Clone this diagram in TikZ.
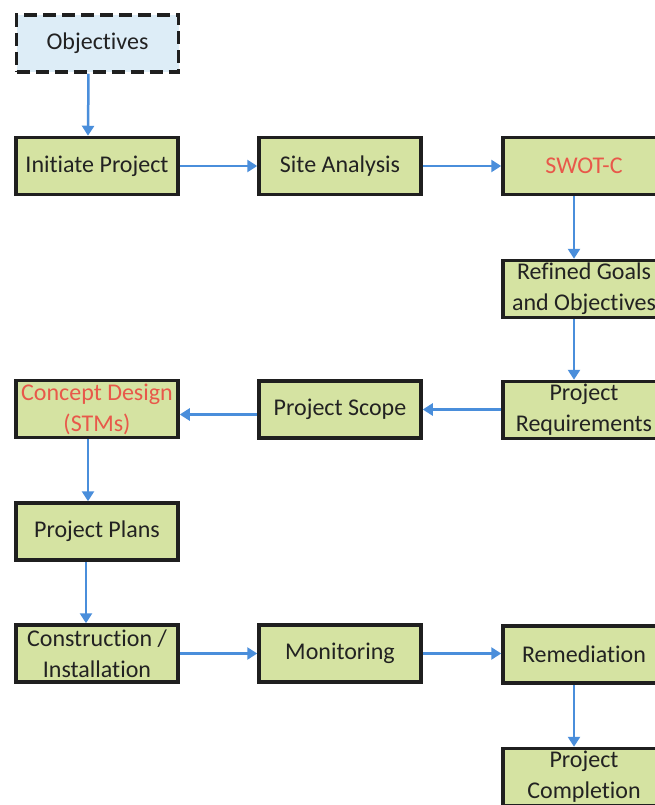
\documentclass[tikz,border=0pt]{standalone}
\usepackage{fontspec}
\setmainfont{Carlito}[Ligatures=NoCommon]
\usetikzlibrary{arrows.meta}
\definecolor{boxgreen}{HTML}{D5E3A2}
\definecolor{boxblue}{HTML}{DDEDF7}
\definecolor{arrowblue}{HTML}{4A8EDB}
\definecolor{txtred}{HTML}{E8584A}
\definecolor{txtdark}{HTML}{222222}
\tikzset{
  box/.style={draw=black!88, line width=3.5pt, fill=boxgreen, minimum width=162pt, minimum height=57pt,
    align=center, inner sep=1pt, font=\fontsize{24}{31}\selectfont, text=txtdark},
  objbox/.style={box, fill=boxblue, dash pattern=on 13pt off 6pt},
  conn/.style={draw=arrowblue, line width=2.5pt, -{Triangle[width=12pt,length=10pt]}},
  redtext/.style={text=txtred}
}
\begin{document}
\begin{tikzpicture}[x=1pt,y=-1pt]
\useasboundingbox (0,0) rectangle (655,805);
\clip (0,0) rectangle (655,805);
\fill[white] (0,0) rectangle (655,805);
\node[objbox] (obj) at (97.5,43.5) {Objectives};
\node[box] (init) at (97,166) {Initiate Project};
\node[box] (site) at (340,166) {Site Analysis};
\node[box, redtext] (swot) at (584,166) {SWOT-C};
\node[box] (refined) at (584,289) {Refined Goals\\and Objectives};
\node[box] (req) at (584,410) {Project\\Requirements};
\node[box] (scope) at (340,409.5) {Project Scope};
\node[box, redtext] (concept) at (97,409) {Concept Design\\(STMs)};
\node[box] (plans) at (97,531.5) {Project Plans};
\node[box] (constr) at (97,653.5) {Construction /\\Installation};
\node[box] (monit) at (340,653.5) {Monitoring};
\node[box] (remed) at (584,654.5) {Remediation};
\node[box] (compl) at (584,777) {Project\\Completion};

\draw[conn] ([xshift=-9pt]obj.south) -- ([xshift=-9pt]init.north);
\draw[conn] (init.east) -- (site.west);
\draw[conn] (site.east) -- (swot.west);
\draw[conn] ([xshift=-10pt]swot.south) -- ([xshift=-10pt]refined.north);
\draw[conn] ([xshift=-10pt]refined.south) -- ([xshift=-10pt]req.north);
\draw[conn] (req.west |- scope.east) -- (scope.east);
\draw[conn] ([yshift=-5pt]scope.west) -- ([yshift=-5pt]scope.west -| concept.east);
\draw[conn] ([xshift=-9pt]concept.south) -- ([xshift=-9pt]plans.north);
\draw[conn] ([xshift=-11pt]plans.south) -- ([xshift=-11pt]constr.north);
\draw[conn] (constr.east) -- (monit.west);
\draw[conn] (monit.east) -- (remed.west |- monit.east);
\draw[conn] ([xshift=-10pt]remed.south) -- ([xshift=-10pt]compl.north);
\end{tikzpicture}
\end{document}
